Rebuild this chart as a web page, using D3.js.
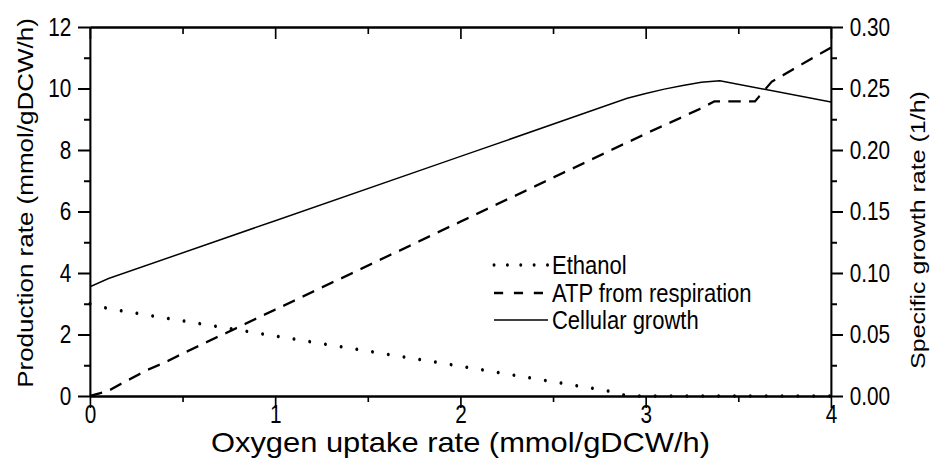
<!DOCTYPE html>
<meta charset="utf-8">
<head>
    <title>Oxygen uptake rate</title>
    <meta charset="utf-8">
    <script type="text/javascript" src="https://d3js.org/d3.v7.min.js"></script>
    <style>
        body { margin: 0; background: #fff; }
        text { font-family: Arial, "Liberation Sans", sans-serif; fill: #000; }
        .axis path, .axis line { stroke: #000; stroke-width: 2; }
    </style>
</head>
<body>
<div id="chart"></div>
<script>
    // values
    var ethanolX = [0, 0.1, 1, 2, 2.8, 2.9, 4]
    var ethanolY = [3.0, 2.84, 1.95, 0.97, 0.16, 0, 0]

    var atpX = [0, 0.1, 0.2, 0.3, 0.4, 0.5, 1, 2, 3, 3.29, 3.37, 3.59, 3.68, 3.8, 3.9, 4]
    var atpY = [0, 0.17, 0.5, 0.82, 1.08, 1.38, 2.81, 5.67, 8.53, 9.33, 9.58, 9.58, 10.22, 10.64, 10.99, 11.33]

    // growth is on the right axis (1/h)
    var growthX = [0, 0.1, 1, 2, 2.9, 3.0, 3.1, 3.2, 3.3, 3.4, 4]
    var growthY = [0.0888, 0.0955, 0.1425, 0.1948, 0.242, 0.246, 0.2495, 0.2525, 0.255, 0.2563, 0.239]

    var xTicks = [0, 1, 2, 3, 4]
    var xMinor = [0.5, 1.5, 2.5, 3.5]
    var leftTicks = [0, 2, 4, 6, 8, 10, 12]
    var leftMinor = [1, 3, 5, 7, 9, 11]
    var rightTicks = [0, 0.05, 0.10, 0.15, 0.20, 0.25, 0.30]
    var rightMinor = [0.025, 0.075, 0.125, 0.175, 0.225, 0.275]

    var legendNames = ["Ethanol", "ATP from respiration", "Cellular growth"]

    // the figure looks squeezed sideways, so draw wider and let the viewBox squash it
    var squeeze = 0.83
    var W = 931, H = 466
    var vw = W / squeeze
    var plotLeft = 90 / squeeze, plotRight = 831 / squeeze, plotTop = 27, plotBottom = 396
    var major = 12 / squeeze, minor = 6 / squeeze

    var svg = d3.select("#chart").append("svg")
        .attr("width", W).attr("height", H)
        .attr("viewBox", "0 0 " + vw + " " + H)
        .attr("preserveAspectRatio", "none")

    var x = d3.scaleLinear().domain([0, 4]).range([plotLeft, plotRight])
    var yL = d3.scaleLinear().domain([0, 12]).range([plotBottom, plotTop])
    var yR = d3.scaleLinear().domain([0, 0.3]).range([plotBottom, plotTop])

    // axes
    svg.append("g").attr("class", "axis").attr("transform", "translate(0," + plotBottom + ")")
        .call(d3.axisBottom(x).tickValues(xTicks).tickSize(12).tickSizeOuter(0).tickPadding(-3).tickFormat(d3.format("d")))
        .selectAll("text").attr("font-size", 25)
    svg.append("g").attr("class", "axis").attr("transform", "translate(0," + plotBottom + ")")
        .call(d3.axisBottom(x).tickValues(xMinor).tickSize(6).tickSizeOuter(0).tickFormat(""))

    svg.append("g").attr("class", "axis").attr("transform", "translate(0," + plotTop + ")")
        .call(d3.axisTop(x).tickValues(xTicks).tickSize(-12).tickSizeOuter(0).tickFormat(""))
    svg.append("g").attr("class", "axis").attr("transform", "translate(0," + plotTop + ")")
        .call(d3.axisTop(x).tickValues(xMinor).tickSize(-7).tickSizeOuter(0).tickFormat(""))

    svg.append("g").attr("class", "axis").attr("transform", "translate(" + plotLeft + ",0)")
        .call(d3.axisLeft(yL).tickValues(leftTicks).tickSize(major).tickSizeOuter(0).tickPadding(8))
        .selectAll("text").attr("font-size", 25)
    svg.append("g").attr("class", "axis").attr("transform", "translate(" + plotLeft + ",0)")
        .call(d3.axisLeft(yL).tickValues(leftMinor).tickSize(minor).tickSizeOuter(0).tickFormat(""))

    svg.append("g").attr("class", "axis").attr("transform", "translate(" + plotRight + ",0)")
        .call(d3.axisRight(yR).tickValues(rightTicks).tickSize(major).tickSizeOuter(0).tickPadding(8).tickFormat(d3.format(".2f")))
        .selectAll("text").attr("font-size", 25)
    svg.append("g").attr("class", "axis").attr("transform", "translate(" + plotRight + ",0)")
        .call(d3.axisRight(yR).tickValues(rightMinor).tickSize(minor).tickSizeOuter(0).tickFormat(""))

    // axis titles
    svg.append("text").attr("x", (plotLeft + plotRight) / 2).attr("y", 452)
        .attr("text-anchor", "middle").attr("font-size", 27)
        .attr("textLength", 499 / squeeze).attr("lengthAdjust", "spacingAndGlyphs")
        .text("Oxygen uptake rate (mmol/gDCW/h)")
    svg.append("text").attr("transform", "translate(" + (33 / squeeze) + "," + 203 + ") rotate(-90)")
        .attr("text-anchor", "middle").attr("font-size", 26)
        .text("Production rate (mmol/gDCW/h)")
    svg.append("text").attr("transform", "translate(" + (925 / squeeze) + "," + 230 + ") rotate(-90)")
        .attr("text-anchor", "middle").attr("font-size", 25)
        .text("Specific growth rate (1/h)")

    // lines
    var lineL = d3.line().x(d => x(d[0])).y(d => yL(d[1]))
    var lineR = d3.line().x(d => x(d[0])).y(d => yR(d[1]))

    svg.append("path").datum(d3.zip(ethanolX, ethanolY)).attr("d", lineL)
        .attr("fill", "none").attr("stroke", "#000").attr("stroke-width", 3.5)
        .attr("stroke-linecap", "round").attr("stroke-dasharray", "0.1 19")
    svg.append("path").datum(d3.zip(atpX, atpY)).attr("d", lineL)
        .attr("fill", "none").attr("stroke", "#000").attr("stroke-width", 2.4)
        .attr("stroke-dasharray", "15 10")
    svg.append("path").datum(d3.zip(growthX, growthY)).attr("d", lineR)
        .attr("fill", "none").attr("stroke", "#000").attr("stroke-width", 1.5)

    // legend
    var lx0 = 494 / squeeze, lx1 = 548 / squeeze, ly = [265, 293, 320]
    var dashes = ["0.1 16", "11 13", null]
    var widths = [3.5, 2.4, 1.5]
    var legend = svg.append("g")
    legendNames.forEach(function(name, i) {
        legend.append("line").attr("x1", lx0).attr("x2", lx1).attr("y1", ly[i]).attr("y2", ly[i])
            .attr("stroke", "#000").attr("stroke-width", widths[i])
            .attr("stroke-linecap", i == 0 ? "round" : "butt")
            .attr("stroke-dasharray", dashes[i])
        legend.append("text").attr("x", 552 / squeeze).attr("y", ly[i] + 9.5)
            .attr("font-size", 26.5).text(name)
    })
</script>
</body>
</html>
